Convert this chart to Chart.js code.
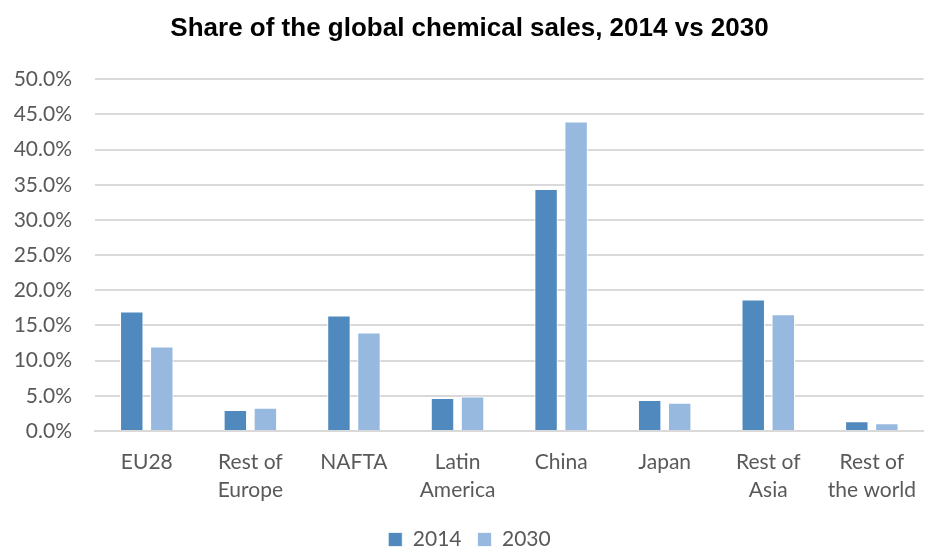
<!DOCTYPE html>
<html>
<head>
<meta charset="utf-8">
<script src="https://cdn.jsdelivr.net/npm/chart.js@4/dist/chart.umd.min.js"></script>
<style>
  html, body { margin: 0; padding: 0; background: #fff; }
  #wrap { width: 925px; height: 549px; }
</style>
</head>
<body>
<div id="wrap"><canvas id="salesChart"></canvas></div>
<script>
const regions = [
    "EU28", ["Rest of", "Europe"], "NAFTA", ["Latin", "America"],
    "China", "Japan", ["Rest of", "Asia"], ["Rest of", "the world"]
];
const share2014 = [17.0, 3.0, 16.4, 4.7, 34.4, 4.4, 18.7, 1.4];
const share2030 = [12.0, 3.3, 14.0, 4.9, 44.0, 4.0, 16.6, 1.1];
const yTicks = [0, 5, 10, 15, 20, 25, 30, 35, 40, 45, 50];

const labelFont = { family: "Lato, 'Open Sans', sans-serif", size: 21 };

new Chart("salesChart", {
    type: "bar",
    data: {
        labels: regions,
        datasets: [{
            label: "2014",
            data: share2014,
            backgroundColor: "#4f89bd",
            borderColor: "#ffffff",
            borderWidth: { left: 1, right: 1, top: 1 },
            categoryPercentage: 0.58,
            barPercentage: 0.78
        }, {
            label: "2030",
            data: share2030,
            backgroundColor: "#98b9df",
            borderColor: "#ffffff",
            borderWidth: { left: 1, right: 1, top: 1 },
            categoryPercentage: 0.58,
            barPercentage: 0.78
        }]
    },
    options: {
        responsive: true,
        maintainAspectRatio: false,
        animation: false,
        layout: { padding: { left: 14, right: 0, top: 8, bottom: -11 } },
        plugins: {
            title: {
                display: true,
                text: "Share of the global chemical sales, 2014 vs 2030",
                color: "#000",
                font: { family: "'Liberation Sans', Arial, sans-serif", size: 26, weight: "bold" },
                padding: { top: 5, bottom: 35 }
            },
            legend: {
                position: "bottom",
                labels: {
                    color: "#595959",
                    font: labelFont,
                    boxWidth: 14,
                    boxHeight: 14,
                    padding: 16
                }
            },
            tooltip: { enabled: false }
        },
        scales: {
            x: {
                grid: { display: false },
                border: { color: "#d9d9d9", width: 2 },
                ticks: {
                    color: "#595959",
                    font: { ...labelFont, lineHeight: 1.333 },
                    maxRotation: 0,
                    autoSkip: false,
                    padding: 9
                }
            },
            y: {
                min: 0,
                max: 50,
                afterBuildTicks: axis => { axis.ticks = yTicks.map(v => ({ value: v })); },
                afterFit: axis => { axis.width = 81; },
                grid: { color: "#d9d9d9", lineWidth: 2, drawTicks: false },
                border: { display: false },
                ticks: {
                    color: "#595959",
                    font: labelFont,
                    padding: 23,
                    callback: v => v.toFixed(1) + "%"
                }
            }
        }
    }
});
</script>
</body>
</html>
